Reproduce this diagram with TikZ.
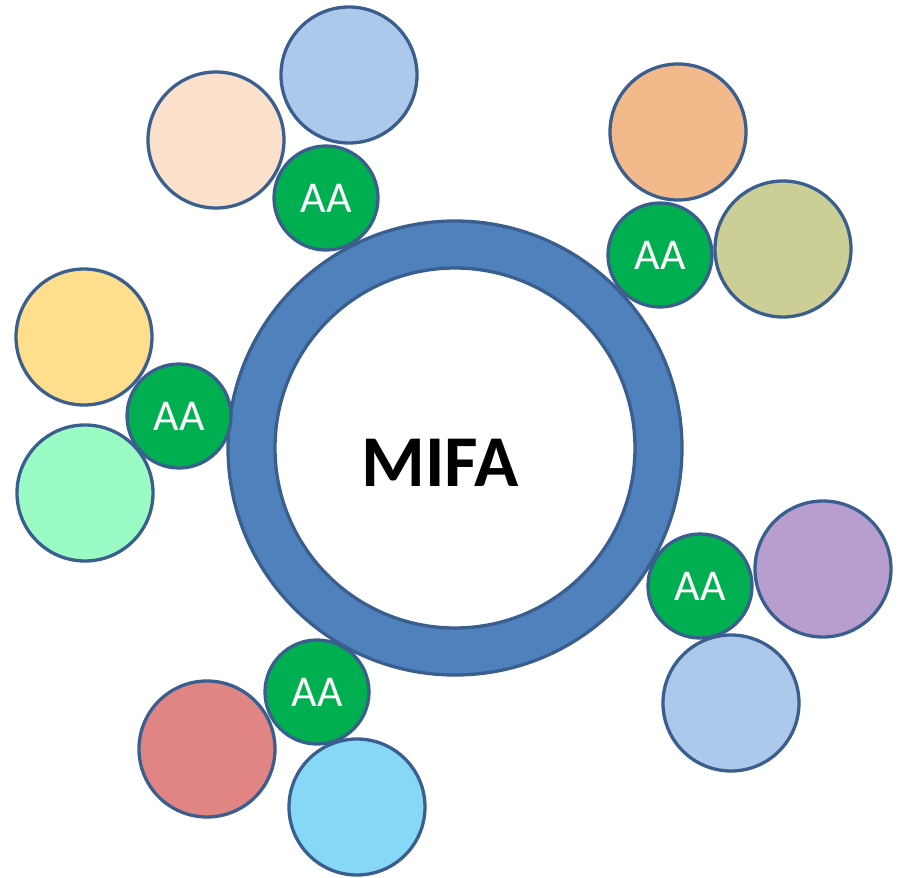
\documentclass[tikz,border=0pt]{standalone}
\usepackage{fontspec}
\setmainfont{Carlito}
\definecolor{bord}{HTML}{3A5F8E}
\definecolor{ringc}{HTML}{4F81BD}
\definecolor{gr}{HTML}{00B050}
\definecolor{c1}{HTML}{FBE0CB}
\definecolor{c2}{HTML}{ACC8EA}
\definecolor{c3}{HTML}{F2B98B}
\definecolor{c4}{HTML}{CBCF95}
\definecolor{c5}{HTML}{FFDF8B}
\definecolor{c6}{HTML}{9BFBC4}
\definecolor{c7}{HTML}{B89DCF}
\definecolor{c8}{HTML}{E08584}
\definecolor{c9}{HTML}{87D7F6}
\tikzset{
  ball/.style={circle, draw=bord, line width=3.3pt, minimum size=136pt, inner sep=0pt},
  aa/.style={circle, draw=bord, line width=3.3pt, fill=gr, minimum size=104pt, inner sep=0pt,
    text=white, font=\fontsize{44}{44}\selectfont},
}
\begin{document}
\begin{tikzpicture}[x=1pt,y=-1pt]
\useasboundingbox (0,0) rectangle (898,878);
\fill[ringc, draw=bord, line width=3.3pt, even odd rule] (455,448) circle (227) (455,448) circle (180);
\node[font=\fontsize{73}{73}\selectfont\bfseries] (mifa) at (440,463) {MIFA};
\node[ball, fill=c1] (b1) at (216,140) {};
\node[ball, fill=c2] (b2) at (349,75) {};
\node[ball, fill=c3] (b3) at (678,132) {};
\node[ball, fill=c4] (b4) at (783,249) {};
\node[ball, fill=c5] (b5) at (84,337) {};
\node[ball, fill=c6] (b6) at (85,493) {};
\node[ball, fill=c7] (b7) at (823,569) {};
\node[ball, fill=c2] (b8) at (731,703) {};
\node[ball, fill=c8] (b9) at (207,749) {};
\node[ball, fill=c9] (b10) at (357,807) {};
\node[aa] (a1) at (326,198) {AA};
\node[aa] (a2) at (660,255) {AA};
\node[aa] (a3) at (179,416) {AA};
\node[aa] (a4) at (700,586) {AA};
\node[aa] (a5) at (317,692) {AA};
\end{tikzpicture}
\end{document}
